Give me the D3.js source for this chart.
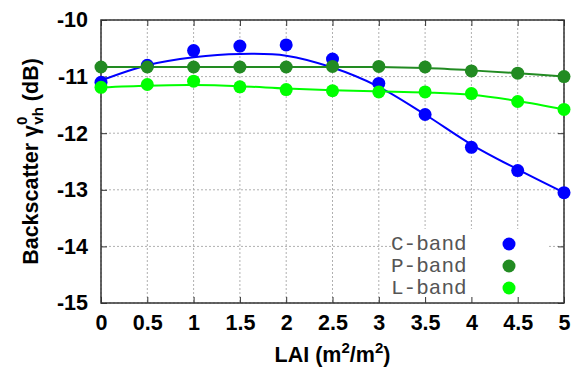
<!DOCTYPE html>
<html>
<head>
<meta charset="utf-8">
<script src="https://cdn.jsdelivr.net/npm/d3@7"></script>
<style>
  body { margin: 0; background: #fff; }
  svg text { font-family: "Liberation Sans", Arial, sans-serif; }
</style>
</head>
<body>
<svg id="chart" width="576" height="371"></svg>
<script>
// LAI values (x)
const lai = [0, 0.5, 1, 1.5, 2, 2.5, 3, 3.5, 4, 4.5, 5];

// measured backscatter (dB)
const cBand = [-11.1, -10.8, -10.54, -10.46, -10.44, -10.69, -11.12, -11.67, -12.25, -12.66, -13.05];
const pBand = [-10.83, -10.83, -10.83, -10.83, -10.83, -10.82, -10.82, -10.83, -10.9, -10.94, -11.0];
const lBand = [-11.19, -11.14, -11.08, -11.18, -11.23, -11.25, -11.27, -11.27, -11.3, -11.44, -11.58];

// fitted curves, at the same LAI steps
const cFit = [-11.07, -10.8, -10.66, -10.6, -10.63, -10.84, -11.18, -11.67, -12.2, -12.64, -13.05];
const pFit = [-10.83, -10.83, -10.83, -10.83, -10.83, -10.83, -10.83, -10.85, -10.89, -10.94, -11.0];
const lFit = [-11.19, -11.16, -11.15, -11.17, -11.21, -11.24, -11.26, -11.28, -11.32, -11.43, -11.58];

const xTicks = [0, 0.5, 1, 1.5, 2, 2.5, 3, 3.5, 4, 4.5, 5];
const yTicks = [-10, -11, -12, -13, -14, -15];

const series = [
  { name: "C-band", color: "#0000ff", pts: cBand, fit: cFit },
  { name: "P-band", color: "#228b22", pts: pBand, fit: pFit },
  { name: "L-band", color: "#00ff00", pts: lBand, fit: lFit }
];

const margin = { left: 101, right: 12, top: 20, bottom: 68 };
const width = 576, height = 371;

const svg = d3.select("#chart");

const x = d3.scaleLinear().domain([0, 5]).range([margin.left, width - margin.right]);
const y = d3.scaleLinear().domain([-15, -10]).range([height - margin.bottom, margin.top]);

// grid
const grid = svg.append("g");
xTicks.forEach(t => {
  grid.append("line")
    .attr("x1", x(t)).attr("x2", x(t))
    .attr("y1", y(-10)).attr("y2", y(-15))
    .attr("stroke", "#b0b0b0").attr("stroke-dasharray", "2,2");
});
yTicks.forEach(t => {
  grid.append("line")
    .attr("x1", x(0)).attr("x2", x(5))
    .attr("y1", y(t)).attr("y2", y(t))
    .attr("stroke", "#b0b0b0").attr("stroke-dasharray", "2,2");
});

// legend box background (covers grid)
svg.append("rect")
  .attr("x", 391).attr("y", 229)
  .attr("width", 158).attr("height", y(-15) - 229)
  .attr("fill", "#fff");

// axes with inward ticks
const tickFont = g => g.selectAll("text")
  .style("font-size", "21.5px").style("font-weight", "bold").attr("fill", "#000");

svg.append("g")
  .attr("transform", `translate(0,${y(-15)})`)
  .call(d3.axisBottom(x).tickValues(xTicks).tickSize(-6).tickPadding(12).tickFormat(d => String(d)))
  .call(g => g.select(".domain").remove())
  .call(g => g.selectAll("line").attr("stroke", "#333"))
  .call(tickFont);

svg.append("g")
  .attr("transform", `translate(0,${y(-10)})`)
  .call(d3.axisTop(x).tickValues(xTicks).tickSize(-6).tickFormat(""))
  .call(g => g.select(".domain").remove())
  .call(g => g.selectAll("line").attr("stroke", "#333"));

svg.append("g")
  .attr("transform", `translate(${x(0)},0)`)
  .call(d3.axisLeft(y).tickValues(yTicks).tickSize(-6).tickPadding(13).tickFormat(d => String(d)))
  .call(g => g.select(".domain").remove())
  .call(g => g.selectAll("line").attr("stroke", "#333"))
  .call(tickFont);

svg.append("g")
  .attr("transform", `translate(${x(5)},0)`)
  .call(d3.axisRight(y).tickValues(yTicks).tickSize(-6).tickFormat(""))
  .call(g => g.select(".domain").remove())
  .call(g => g.selectAll("line").attr("stroke", "#333"));

// frame
svg.append("rect")
  .attr("x", x(0)).attr("y", y(-10))
  .attr("width", x(5) - x(0)).attr("height", y(-15) - y(-10))
  .attr("fill", "none").attr("stroke", "#333").attr("stroke-width", 1.5);

// fit lines
const line = d3.line()
  .x((d, i) => x(lai[i]))
  .y(d => y(d))
  .curve(d3.curveCatmullRom);

series.forEach(s => {
  svg.append("path")
    .datum(s.fit)
    .attr("d", line)
    .attr("fill", "none")
    .attr("stroke", s.color)
    .attr("stroke-width", 2);
});

// points
series.forEach(s => {
  svg.append("g").selectAll("circle")
    .data(s.pts)
    .join("circle")
    .attr("cx", (d, i) => x(lai[i]))
    .attr("cy", d => y(d))
    .attr("r", 6.5)
    .attr("fill", s.color);
});

// legend
series.forEach((s, i) => {
  const ly = 244 + i * 22;
  svg.append("text")
    .attr("x", 391).attr("y", ly + 6)
    .style("font-family", "'Liberation Mono', 'Courier New', monospace")
    .style("font-size", "21px")
    .attr("fill", "#555")
    .text(s.name);
  svg.append("circle")
    .attr("cx", 509).attr("cy", ly)
    .attr("r", 6.5)
    .attr("fill", s.color);
});

// axis titles
const xt = svg.append("text")
  .attr("x", (x(0) + x(5)) / 2)
  .attr("y", 362)
  .attr("text-anchor", "middle")
  .style("font-size", "21.5px").style("font-weight", "bold");
xt.append("tspan").text("LAI (m");
xt.append("tspan").attr("dy", -9).style("font-size", "15px").text("2");
xt.append("tspan").attr("dy", 9).text("/m");
xt.append("tspan").attr("dy", -9).style("font-size", "15px").text("2");
xt.append("tspan").attr("dy", 9).text(")");

const yt = svg.append("text")
  .attr("transform", `translate(38,${(y(-10) + y(-15)) / 2}) rotate(-90)`)
  .attr("text-anchor", "middle")
  .style("font-size", "21.5px").style("font-weight", "bold");
yt.append("tspan").text("Backscatter γ");
yt.append("tspan").attr("dy", -11).style("font-size", "15px").text("0");
yt.append("tspan").attr("dx", -8).attr("dy", 16).style("font-size", "15px").text("vh");
yt.append("tspan").attr("dy", -5).text(" (dB)");
</script>
</body>
</html>
